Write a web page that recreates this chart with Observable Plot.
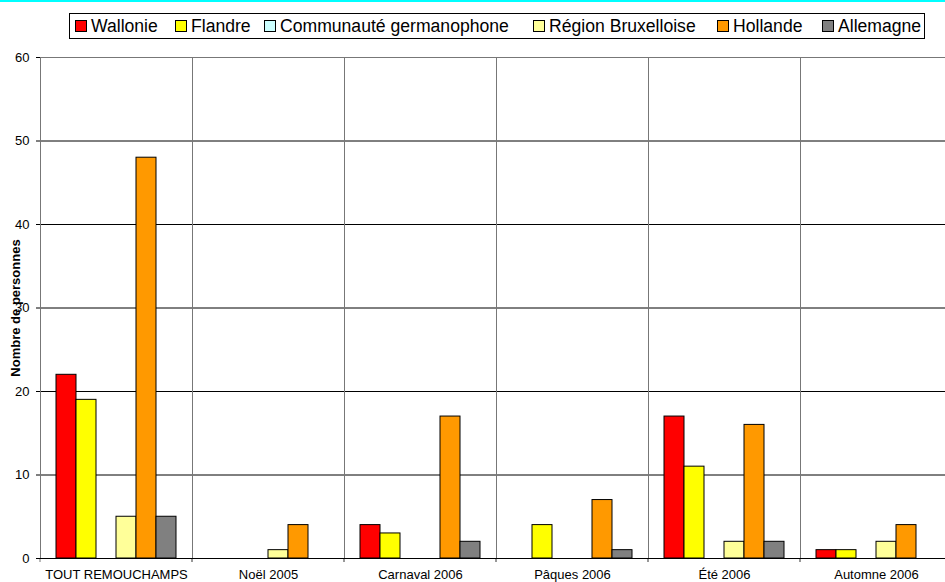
<!DOCTYPE html>
<html>
<head>
<meta charset="utf-8">
<script src="https://cdn.jsdelivr.net/npm/d3@7"></script>
<script src="https://cdn.jsdelivr.net/npm/@observablehq/plot@0.6"></script>
<style>
  html, body { margin: 0; padding: 0; background: #fff; overflow: hidden; }
  #wrap { position: relative; width: 945px; height: 582px; }
  #topline { position: absolute; left: 0; top: 0; width: 945px; height: 2px; background: #00FFFF; }
  #legend { position: absolute; left: 69px; top: 13px; width: 856px; height: 26px; border: 1px solid #000;
    box-sizing: border-box; font-family: "Liberation Sans", Arial, sans-serif; font-size: 17.6px; color: #000; background: #fff; }
  #legend .item { position: absolute; top: 0; height: 24px; display: flex; align-items: center; white-space: nowrap; }
  #legend .sw { width: 10px; height: 10px; border: 1px solid #000; margin-right: 4px; }
  #chart { position: absolute; left: 0; top: 0; }
  svg [aria-label="y-axis label"] text { font-weight: bold; }
</style>
</head>
<body>
<div id="wrap">
  <div id="chart"></div>
  <div id="topline"></div>
  <div id="legend"></div>
</div>
<script>
const categories = ["TOUT REMOUCHAMPS", "Noël 2005", "Carnaval 2006", "Pâques 2006", "Été 2006", "Automne 2006"];
const series = ["Wallonie", "Flandre", "Communauté germanophone", "Région Bruxelloise", "Hollande", "Allemagne"];
const wallonie  = [22, 0, 4, 0, 17, 1];
const flandre   = [19, 0, 3, 4, 11, 1];
const germano   = [0, 0, 0, 0, 0, 0];
const bruxelles = [5, 1, 0, 0, 2, 2];
const hollande  = [48, 4, 17, 7, 16, 4];
const allemagne = [5, 0, 2, 1, 2, 0];
const yTicks = [0, 10, 20, 30, 40, 50, 60];
const colors = ["#FF0000", "#FFFF00", "#CCFFFF", "#FFFF99", "#FF9900", "#808080"];
const legendLeft = [5, 105, 194, 463, 647, 752];

const valuesBySeries = [wallonie, flandre, germano, bruxelles, hollande, allemagne];
const rows = [];
categories.forEach((c, i) => {
  series.forEach((s, j) => rows.push({cat: c, series: s, value: valuesBySeries[j][i]}));
});

const chart = Plot.plot({
  width: 945,
  height: 582,
  marginTop: 57,
  marginBottom: 24,
  marginLeft: 40,
  marginRight: -7,
  style: {fontFamily: "'Liberation Sans', Arial, sans-serif", fontSize: "13px", background: "transparent", color: "#000"},
  fx: {domain: categories, padding: 0, label: null, axis: null},
  x: {domain: series, paddingInner: 0, paddingOuter: 0.74, axis: null},
  y: {domain: [0, 60], axis: null},
  color: {domain: series, range: colors},
  marks: [
    Plot.gridY(yTicks, {stroke: "#000", strokeOpacity: 1}),
    Plot.frame({stroke: "#777"}),
    Plot.rect(categories, {fx: d => d, y1: 0, y2: 0, insetBottom: -4, fill: "none", stroke: "#777",
      strokeDasharray: "0,152,4,152,4"}),
    Plot.barY(rows, {fx: "cat", x: "series", y: "value", fill: "series", stroke: "#000", strokeWidth: 1}),
    Plot.ruleY([0], {stroke: "#000"}),
    Plot.axisFx({anchor: "bottom", tickSize: 0, tickPadding: 11, fontSize: 13, label: null}),
    Plot.axisY(yTicks, {tickSize: 4, tickPadding: 7, stroke: "#000", fontSize: 13, label: "Nombre de personnes",
      labelAnchor: "center", labelArrow: "none", labelOffset: 30})
  ]
});
document.getElementById("chart").appendChild(chart);

const legend = document.getElementById("legend");
series.forEach((s, j) => {
  const it = document.createElement("div");
  it.className = "item";
  it.style.left = legendLeft[j] + "px";
  const sw = document.createElement("div");
  sw.className = "sw";
  sw.style.background = colors[j];
  const t = document.createElement("span");
  t.textContent = s;
  it.appendChild(sw);
  it.appendChild(t);
  legend.appendChild(it);
});
</script>
</body>
</html>
